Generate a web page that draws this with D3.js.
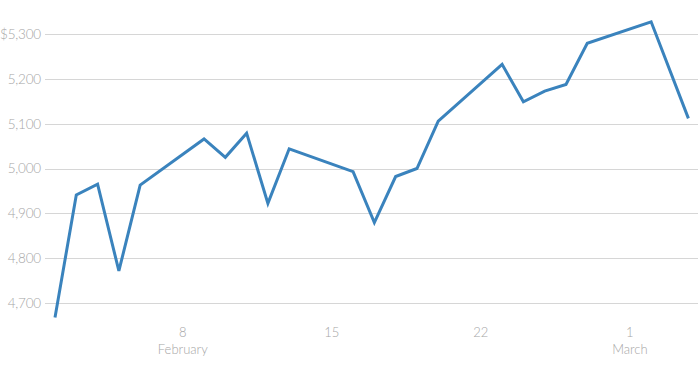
<!DOCTYPE html>
<html lang="en">
<head>
	<meta charset="utf-8">
	<title>Price</title>
	<style>
		body { margin: 0; background: #fff; }
		#chart text { font-family: Lato, "Open Sans", sans-serif; font-weight: 300; fill: #a6a6a6; }
	</style>
</head>
<body>
	<div id="chart"></div>

	<script src="https://d3js.org/d3.v7.min.js"></script>
	<script>
		var width = 698,
		    height = 367;

		// trading days (the last one is an intraday reading)
		var dates = [
			"2026-02-02", "2026-02-03", "2026-02-04", "2026-02-05", "2026-02-06",
			"2026-02-09", "2026-02-10", "2026-02-11", "2026-02-12", "2026-02-13",
			"2026-02-16", "2026-02-17", "2026-02-18", "2026-02-19", "2026-02-20",
			"2026-02-23", "2026-02-24", "2026-02-25", "2026-02-26", "2026-02-27",
			"2026-03-02", "2026-03-03T18:00"
		];
		var prices = [
			4667, 4941, 4965, 4771, 4963,
			5066, 5025, 5079, 4922, 5044,
			4993, 4879, 4982, 5000, 5106,
			5233, 5149, 5173, 5188, 5280,
			5328, 5112
		];
		var yTicks = [4700, 4800, 4900, 5000, 5100, 5200, 5300];
		var xTicks = ["2026-02-08", "2026-02-15", "2026-02-22", "2026-03-01"];
		var monthLabels = { "2026-02-08": "February", "2026-03-01": "March" };

		var parse = d3.isoParse;
		var data = dates.map(function(d, i) { return { date: parse(d), value: prices[i] }; });

		var svg = d3.select("#chart")
			.append("svg")
			.attr("width", width)
			.attr("height", height);

		var x = d3.scaleTime()
			.domain(d3.extent(data, function(d) { return d.date; }))
			.range([55, 688.4]);

		var y = d3.scaleLinear()
			.domain([4700, 5300])
			.range([302.7, 34.3]);

		// horizontal gridlines + y labels
		var grid = svg.append("g");
		grid.selectAll("line")
			.data(yTicks)
		.enter().append("line")
			.attr("x1", 45)
			.attr("x2", width)
			.attr("y1", function(d) { return Math.round(y(d)) + 0.5; })
			.attr("y2", function(d) { return Math.round(y(d)) + 0.5; })
			.attr("stroke", "#d6d6d6")
			.attr("stroke-width", 1);

		var fmt = d3.format(",");
		grid.selectAll("text")
			.data(yTicks)
		.enter().append("text")
			.attr("x", 41)
			.attr("y", function(d) { return y(d); })
			.attr("dy", "0.36em")
			.attr("text-anchor", "end")
			.style("font-size", "13.5px")
			.style("letter-spacing", "-0.2px")
			.text(function(d, i) { return (i == yTicks.length - 1 ? "$" : "") + fmt(d); });

		// x tick labels
		var xt = svg.append("g").selectAll("g")
			.data(xTicks)
		.enter().append("g")
			.attr("transform", function(d) { return "translate(" + x(parse(d)) + ",0)"; });

		xt.append("text")
			.attr("y", 337)
			.attr("text-anchor", "middle")
			.style("font-size", "13px")
			.text(function(d) { return d3.timeFormat("%-d")(parse(d)); });

		xt.append("text")
			.attr("y", 353.5)
			.attr("text-anchor", "middle")
			.style("font-size", "13px")
			.text(function(d) { return monthLabels[d] || ""; });

		// price line
		var line = d3.line()
			.x(function(d) { return x(d.date); })
			.y(function(d) { return y(d.value); });

		svg.append("path")
			.datum(data)
			.attr("d", line)
			.attr("fill", "none")
			.attr("stroke", "#3a83bd")
			.attr("stroke-width", 3)
			.attr("stroke-linejoin", "miter");
	</script>
</body>
</html>
